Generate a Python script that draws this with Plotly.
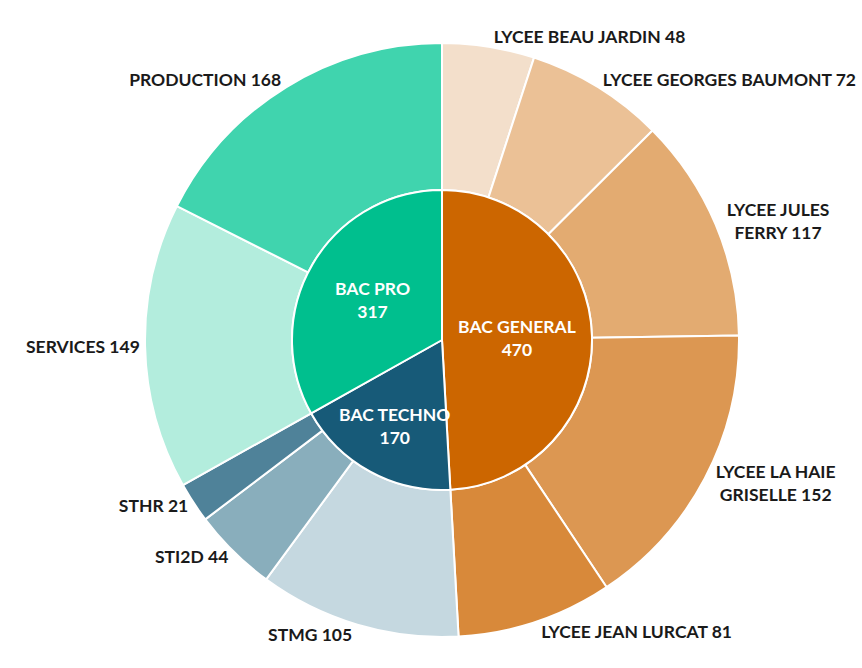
import plotly.graph_objects as go

# Inner ring (bac type)
inner_labels = ["BAC GENERAL", "BAC TECHNO", "BAC PRO"]
inner_values = [470, 170, 317]
inner_colors = ["#CC6600", "#175A78", "#00BF8E"]

# Outer ring (establishments / series)
outer_labels = ["LYCEE BEAU JARDIN", "LYCEE GEORGES BAUMONT", "LYCEE JULES<br>FERRY",
                "LYCEE LA HAIE<br>GRISELLE", "LYCEE JEAN LURCAT",
                "STMG", "STI2D", "STHR", "SERVICES", "PRODUCTION"]
outer_values = [48, 72, 117, 152, 81, 105, 44, 21, 149, 168]
outer_colors = ["#F3DFCB", "#EBC196", "#E3AB71", "#DC9752", "#D8893A",
                "#C5D8E0", "#89AEBC", "#4F8299", "#B3EDDD", "#40D4AE"]

W, H = 862, 668
cx, cy = 442, 340
R_out, R_in = 297, 150

def dom(r):
    return dict(x=[(cx - r) / W, (cx + r) / W],
                y=[(H - cy - r) / H, (H - cy + r) / H])

fig = go.Figure()
fig.add_trace(go.Pie(
    labels=outer_labels, values=outer_values, sort=False, direction="clockwise",
    rotation=0, hole=R_in / R_out, domain=dom(R_out), automargin=False,
    marker=dict(colors=outer_colors, line=dict(color="white", width=2)),
    texttemplate="%{label} %{value}", textposition="outside",
    textfont=dict(family="Lato", size=17.5, color="#1a1a1a", weight="bold"),
    outsidetextfont=dict(family="Lato", size=17.5, color="#1a1a1a", weight="bold"),
    showlegend=False, hoverinfo="label+value",
))
fig.add_trace(go.Pie(
    labels=inner_labels, values=inner_values, sort=False, direction="clockwise",
    rotation=0, domain=dom(R_in), automargin=False,
    marker=dict(colors=inner_colors, line=dict(color="white", width=2)),
    texttemplate="%{label}<br>%{value}", textposition="inside",
    insidetextorientation="horizontal",
    insidetextfont=dict(family="Lato", size=19, color="white", weight="bold"),
    showlegend=False, hoverinfo="label+value",
))
fig.update_layout(width=W, height=H,
                  margin=dict(l=0, r=0, t=0, b=0, autoexpand=False),
                  paper_bgcolor="white", plot_bgcolor="white",
                  uniformtext=dict(minsize=17.5, mode="show"))
fig.write_html("out.html", config={"displayModeBar": False},
               post_script="document.body.style.margin='0';document.body.style.overflow='hidden';")
